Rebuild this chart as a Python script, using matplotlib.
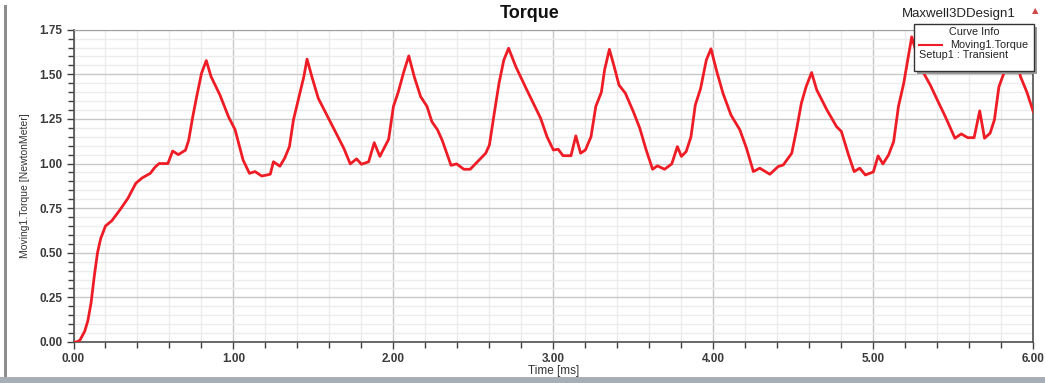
import matplotlib
matplotlib.use("Agg")
import matplotlib.pyplot as plt
from matplotlib.ticker import MultipleLocator, FormatStrFormatter
from matplotlib.patches import Rectangle
from matplotlib.lines import Line2D

plt.rcParams["font.family"] = ["Liberation Sans", "DejaVu Sans"]

# torque curve (time in ms, torque in N.m)
time_ms = [
    0.00, 0.02, 0.04, 0.07, 0.09, 0.11, 0.13, 0.15, 0.17, 0.20,
    0.24, 0.29, 0.34, 0.39, 0.43, 0.48, 0.51, 0.535, 0.59, 0.62,
    0.655, 0.70, 0.72, 0.745, 0.77, 0.80, 0.83, 0.86, 0.915, 0.97,
    1.01, 1.06, 1.10, 1.135, 1.177, 1.23, 1.25, 1.29, 1.32, 1.35,
    1.375, 1.405, 1.44, 1.46, 1.49, 1.53, 1.585, 1.636, 1.69, 1.73,
    1.77, 1.80, 1.845, 1.88, 1.915, 1.97, 2.00, 2.03, 2.065, 2.096,
    2.13, 2.17, 2.21, 2.24, 2.275, 2.305, 2.36, 2.395, 2.44, 2.48,
    2.525, 2.577, 2.60, 2.63, 2.66, 2.69, 2.72, 2.765, 2.83, 2.88,
    2.92, 2.96, 3.00, 3.03, 3.06, 3.11, 3.14, 3.17, 3.20, 3.235,
    3.265, 3.30, 3.32, 3.35, 3.38, 3.41, 3.45, 3.50, 3.54, 3.58,
    3.62, 3.65, 3.695, 3.74, 3.775, 3.80, 3.83, 3.86, 3.887, 3.92,
    3.956, 3.985, 4.02, 4.06, 4.11, 4.165, 4.207, 4.25, 4.29, 4.353,
    4.405, 4.437, 4.49, 4.52, 4.55, 4.58, 4.614, 4.646, 4.71, 4.77,
    4.80, 4.845, 4.88, 4.915, 4.95, 5.00, 5.03, 5.06, 5.095, 5.127,
    5.157, 5.19, 5.215, 5.24, 5.27, 5.315, 5.356, 5.40, 5.45, 5.51,
    5.55, 5.59, 5.63, 5.665, 5.695, 5.73, 5.757, 5.785, 5.816, 5.85,
    5.875, 5.90, 5.92, 5.96, 6.00,
]
torque = [
    0.00, 0.00, 0.01, 0.06, 0.12, 0.22, 0.37, 0.50, 0.58, 0.65,
    0.68, 0.74, 0.805, 0.89, 0.92, 0.945, 0.98, 1.00, 1.00, 1.07,
    1.05, 1.075, 1.13, 1.26, 1.375, 1.505, 1.577, 1.487, 1.385, 1.26,
    1.19, 1.02, 0.945, 0.955, 0.93, 0.94, 1.01, 0.985, 1.03, 1.095,
    1.245, 1.356, 1.487, 1.585, 1.487, 1.366, 1.27, 1.18, 1.085, 0.998,
    1.026, 0.996, 1.01, 1.117, 1.04, 1.136, 1.32, 1.40, 1.515, 1.603,
    1.487, 1.375, 1.32, 1.235, 1.19, 1.13, 0.99, 0.998, 0.968, 0.968,
    1.01, 1.058, 1.104, 1.28, 1.45, 1.58, 1.646, 1.543, 1.42, 1.328,
    1.254, 1.15, 1.076, 1.08, 1.044, 1.044, 1.155, 1.058, 1.076, 1.15,
    1.32, 1.40, 1.525, 1.64, 1.543, 1.44, 1.394, 1.29, 1.198, 1.076,
    0.968, 0.987, 0.968, 0.998, 1.095, 1.04, 1.067, 1.15, 1.328, 1.42,
    1.58, 1.643, 1.52, 1.394, 1.272, 1.19, 1.086, 0.955, 0.974, 0.94,
    0.983, 0.992, 1.058, 1.19, 1.338, 1.431, 1.51, 1.413, 1.30, 1.207,
    1.18, 1.048, 0.955, 0.974, 0.936, 0.953, 1.043, 0.998, 1.048, 1.123,
    1.32, 1.45, 1.58, 1.71, 1.618, 1.506, 1.44, 1.356, 1.263, 1.142,
    1.166, 1.145, 1.145, 1.295, 1.142, 1.17, 1.245, 1.43, 1.506, 1.60,
    1.63, 1.56, 1.487, 1.40, 1.29,
]

W, H = 1045, 383
fig = plt.figure(figsize=(W / 100, H / 100), dpi=100)
fig.patch.set_facecolor("white")

left, right, top, bottom = 73.5, 1033.3, 29.7, 342.0
ax = fig.add_axes([left / W, 1 - bottom / H, (right - left) / W, (bottom - top) / H])

ax.plot(time_ms, torque, color="#ee1c25", lw=2.0, solid_joinstyle="round", zorder=3)

ax.set_xlim(0, 6)
ax.set_ylim(0, 1.75)
ax.xaxis.set_major_locator(MultipleLocator(1.0))
ax.xaxis.set_minor_locator(MultipleLocator(0.2))
ax.yaxis.set_major_locator(MultipleLocator(0.25))
ax.yaxis.set_minor_locator(MultipleLocator(0.05))
ax.xaxis.set_major_formatter(FormatStrFormatter("%.2f"))
ax.yaxis.set_major_formatter(FormatStrFormatter("%.2f"))

ax.grid(which="major", color="#c8c8c8", lw=1.0)
ax.grid(which="minor", color="#ececec", lw=1.0)
ax.set_axisbelow(True)

ax.tick_params(which="major", direction="out", length=5, width=1, color="#404040",
               labelsize=8.5, labelcolor="#3a3a3a", pad=3)
ax.tick_params(which="minor", direction="out", length=4, width=1, color="#404040")
for lab in ax.get_xticklabels() + ax.get_yticklabels():
    lab.set_fontweight("bold")

for side in ("left", "bottom", "right"):
    ax.spines[side].set_color("#505050")
    ax.spines[side].set_linewidth(1.2)
ax.spines["top"].set_color("#a0a0a0")

ax.set_xlabel("Time [ms]", fontsize=8.5, color="#333333", labelpad=0)
ax.set_ylabel("Moving1.Torque [NewtonMeter]", fontsize=7.5, color="#333333", labelpad=7)

fig.text(0.507, 1 - 13 / H, "Torque", fontsize=13, fontweight="bold", ha="center",
         va="center", color="#111111")
fig.text(959 / W, 1 - 14 / H, "Maxwell3DDesign1", fontsize=9.5, ha="center", va="center",
         color="#222222")
fig.text(1035 / W, 1 - 11 / H, "\u25B2", fontsize=6, ha="center", va="center",
         color="#d04848", family=["DejaVu Sans"])

# curve info box
lx0, lx1, ly0, ly1 = 914, 1034, 24, 71
fig.add_artist(Rectangle(((lx0 + 3) / W, 1 - (ly1 + 3) / H), (lx1 - lx0) / W, (ly1 - ly0) / H,
                         transform=fig.transFigure, facecolor="#9a9a9a", edgecolor="none",
                         zorder=9))
fig.add_artist(Rectangle((lx0 / W, 1 - ly1 / H), (lx1 - lx0) / W, (ly1 - ly0) / H,
                         transform=fig.transFigure, facecolor="white", edgecolor="#333333",
                         lw=1, zorder=10))
fig.text((lx0 + lx1) / 2 / W, 1 - 32 / H, "Curve Info", fontsize=7.8, ha="center",
         va="center", color="#222222", zorder=11)
fig.add_artist(Line2D([919 / W, 942 / W], [1 - 44.5 / H, 1 - 44.5 / H],
                      transform=fig.transFigure, color="#ee1c25", lw=1.5, zorder=11))
fig.text(950 / W, 1 - 44.5 / H, "Moving1.Torque", fontsize=7.8, ha="left", va="center",
         color="#222222", zorder=11)
fig.text(919 / W, 1 - 55 / H, "Setup1 : Transient", fontsize=7.8, ha="left", va="center",
         color="#222222", zorder=11)

# window frame bits
fig.add_artist(Rectangle((4 / W, 6 / H), 2.5 / W, (H - 11) / H, transform=fig.transFigure,
                         facecolor="#8c8c8c", edgecolor="none"))
fig.add_artist(Rectangle((0, 0), 1, 6 / H, transform=fig.transFigure,
                         facecolor="#a7aeb6", edgecolor="none"))

fig.savefig("out.png", dpi=100)
